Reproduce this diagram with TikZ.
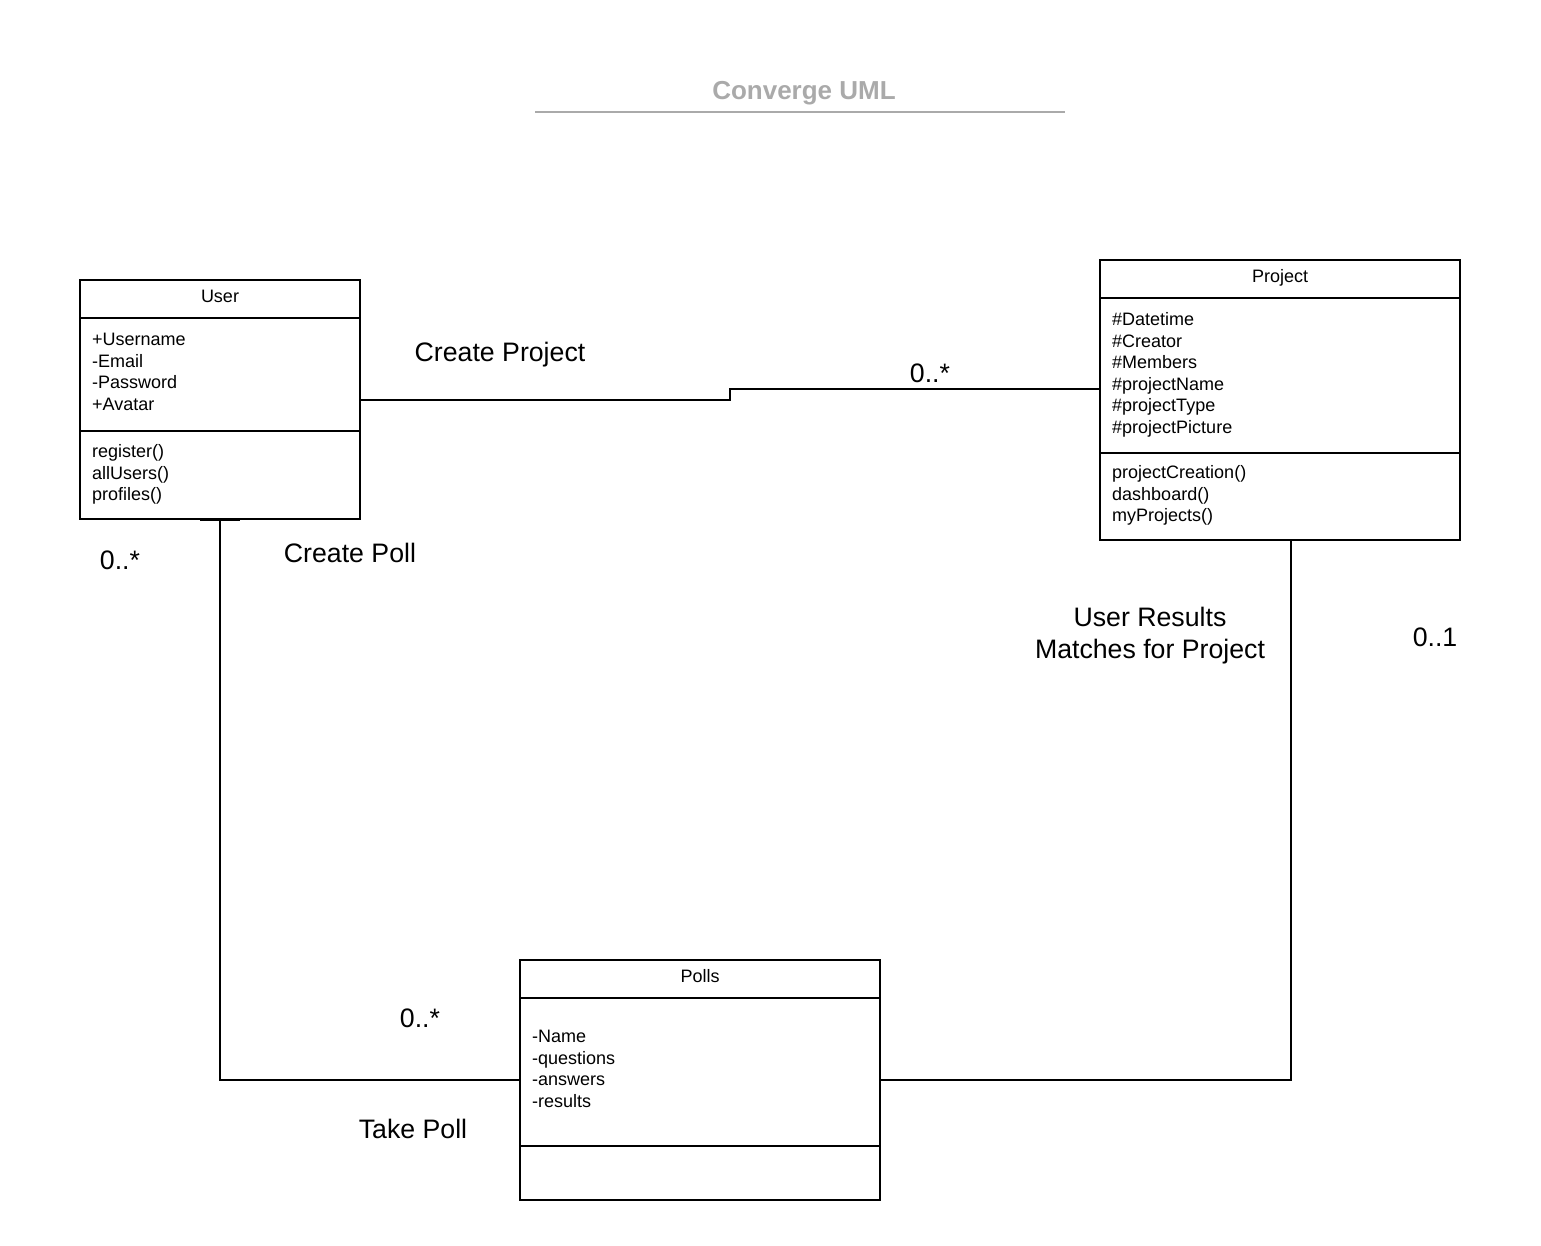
\documentclass[tikz,border=0pt]{standalone}
\usepackage{fontspec}
\setmainfont{Liberation Sans}
\usetikzlibrary{calc}
\definecolor{titlegray}{HTML}{AAAAAA}
\tikzset{
  umlbox/.style={draw, line width=2pt, inner sep=0pt, outer sep=0pt, anchor=north west},
  attr/.style={anchor=base west, inner sep=0pt, font=\fontsize{18}{21.6}\selectfont},
  hdr/.style={anchor=base, inner sep=0pt, font=\fontsize{18}{21.6}\selectfont},
  lbl/.style={anchor=base, inner sep=0pt, font=\fontsize{26.7}{32}\selectfont},
  conn/.style={line width=2pt},
  divider/.style={line width=2pt}
}
\begin{document}
\begin{tikzpicture}[x=1pt,y=-1pt]
\useasboundingbox (0,0) rectangle (1541,1246);

% title
\node[anchor=base, inner sep=0pt, font=\fontsize{26}{31}\selectfont\bfseries, text=titlegray] (title) at (804,99.5) {Converge UML};
\coordinate (tl) at (535,112);
\coordinate (tr) at (1065,112);
\draw[titlegray, line width=2pt] (tl) -- (tr);

% User
\node[umlbox, minimum width=280pt, minimum height=239pt] (user) at (80,280) {};
\draw[divider] ($(user.north west)+(0,38)$) -- ($(user.north east)+(0,38)$);
\draw[divider] ($(user.north west)+(0,151)$) -- ($(user.north east)+(0,151)$);
\node[hdr] (userh) at (220,302.5) {User};
\foreach \t [count=\i] in {+Username,-Email,-Password,+Avatar}
  \node[attr] (ua\i) at (92,{345.5+21.6*(\i-1)}) {\t};
\foreach \t [count=\i] in {register(),allUsers(),profiles()}
  \node[attr] (um\i) at (92,{457.5+21.6*(\i-1)}) {\t};

% Project
\node[umlbox, minimum width=360pt, minimum height=280pt] (project) at (1100,260) {};
\draw[divider] ($(project.north west)+(0,38)$) -- ($(project.north east)+(0,38)$);
\draw[divider] ($(project.north west)+(0,193)$) -- ($(project.north east)+(0,193)$);
\node[hdr] (projecth) at (1280,282.5) {Project};
\foreach \t [count=\i] in {\#Datetime,\#Creator,\#Members,\#projectName,\#projectType,\#projectPicture}
  \node[attr] (pa\i) at (1112,{325.5+21.6*(\i-1)}) {\t};
\foreach \t [count=\i] in {projectCreation(),dashboard(),myProjects()}
  \node[attr] (pm\i) at (1112,{478.5+21.6*(\i-1)}) {\t};

% Polls
\node[umlbox, minimum width=360pt, minimum height=240pt] (polls) at (520,960) {};
\draw[divider] ($(polls.north west)+(0,38)$) -- ($(polls.north east)+(0,38)$);
\draw[divider] ($(polls.north west)+(0,186)$) -- ($(polls.north east)+(0,186)$);
\node[hdr] (pollsh) at (700,982.5) {Polls};
\foreach \t [count=\i] in {-Name,-questions,-answers,-results}
  \node[attr] (qa\i) at (532,{1042.5+21.6*(\i-1)}) {\t};

% connectors
\coordinate (pw) at ($(project.west)+(0,-11)$);
\coordinate (ue) at (user.east);
\coordinate (mid) at (730,0);
\draw[conn] (ue) -- (ue -| mid) -- (mid |- pw) -- (pw);

\coordinate (us) at (220,520);
\coordinate (ul) at (200,520);
\coordinate (ur) at (240,520);
\draw[line width=2.5pt] (ul) -- (ur);
\draw[conn] (us) |- (polls.west);

\coordinate (ps) at (1291,540);
\draw[conn] (ps) |- (polls.east);

% labels
\node[lbl] (l1) at (500,361.5) {Create Project};
\node[lbl] (l2) at (930,382.5) {0..*};
\node[lbl] (l3) at (120,569.5) {0..*};
\node[lbl] (l4) at (350,562.5) {Create Poll};
\node[lbl] (l5) at (1150,626.5) {User Results};
\node[lbl] (l6) at (1150,658.5) {Matches for Project};
\node[lbl] (l7) at (1435,646.5) {0..1};
\node[lbl] (l8) at (420,1027.5) {0..*};
\node[lbl] (l9) at (413,1138.5) {Take Poll};
\end{tikzpicture}
\end{document}
